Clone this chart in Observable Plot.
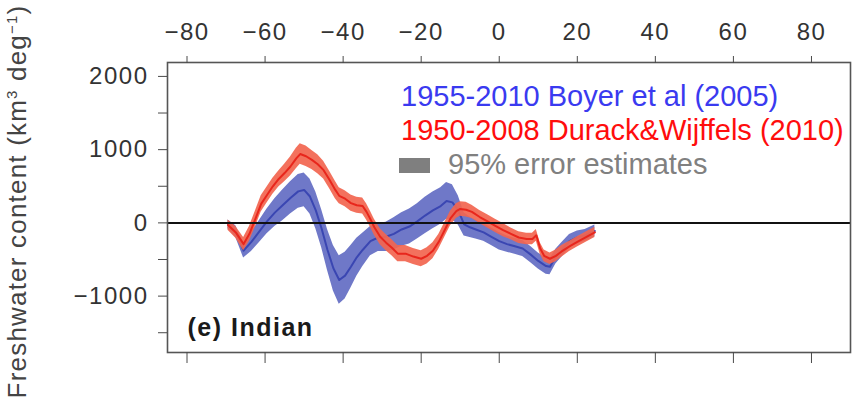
<!DOCTYPE html>
<html>
<head>
<meta charset="utf-8">
<script src="https://cdn.jsdelivr.net/npm/d3@7"></script>
<script src="https://cdn.jsdelivr.net/npm/@observablehq/plot@0.6"></script>
<style>
  html, body { margin: 0; padding: 0; background: #fff; }
  #wrap { position: relative; width: 854px; height: 399px; overflow: hidden; font-family: "Liberation Sans", Arial, sans-serif; }
  #wrap svg g[aria-label$="tick label"] text { letter-spacing: 1.5px; }
  .leg { position: absolute; left: 401px; font-size: 29px; line-height: 34px; white-space: nowrap; }
  #swatch { position: absolute; left: 399px; top: 158px; width: 31px; height: 15px; background: #7f7f7f; }
</style>
</head>
<body>
<div id="wrap">
  <div id="chart"></div>
  <div class="leg" id="legBoyer" style="top:79px;color:#3a3af0;"></div>
  <div class="leg" id="legDurack" style="top:113px;color:#ff0d0d;"></div>
  <div id="swatch"></div>
  <div class="leg" id="legErr" style="top:147px;left:448px;color:#808080;"></div>
</div>
<script>
// ---- Data ----
const xTicks = [-80, -60, -40, -20, 0, 20, 40, 60, 80];
const yMajorTicks = [-1000, 0, 1000, 2000];
const yMinorTicks = [-1500, -500, 500, 1500];

const seriesNames = ["1955-2010 Boyer et al (2005)", "1950-2008 Durack&Wijffels (2010)", "95% error estimates"];
const panelLabel = "(e) Indian";
const yLabel = "Freshwater content (km³ deg⁻¹)";

const boyerLat = [-69.5, -67.5, -65.5, -63.5, -61.5, -59.5, -57.5, -55.5, -53.5, -51.5, -50, -48.5, -47, -45.5, -44, -42.5, -41, -39.5, -38, -36.5, -35, -33, -31, -29, -27, -25, -23, -21, -19, -17, -15, -13.5, -12, -10.5, -9, -7.5, -6, -4, -2, 0, 2, 4, 6, 8, 10, 12, 13, 14.5, 16, 18, 20, 22, 24.5];
const boyerVal = [-20, -120, -380, -260, -120, 20, 140, 240, 340, 430, 450, 360, 170, -80, -370, -620, -780, -720, -600, -470, -370, -250, -200, -190, -150, -90, -50, 20, 100, 170, 230, 300, 280, 170, -20, -60, -90, -130, -190, -250, -290, -320, -350, -430, -520, -590, -600, -460, -370, -250, -200, -170, -110];
const boyerErr = [60, 80, 100, 130, 150, 170, 190, 210, 220, 230, 230, 240, 250, 260, 280, 310, 330, 320, 290, 260, 230, 200, 190, 200, 220, 230, 240, 240, 250, 250, 250, 250, 240, 200, 160, 140, 130, 120, 120, 120, 110, 110, 110, 110, 110, 110, 110, 100, 100, 90, 90, 80, 80];

const durackLat = [-69.5, -67.5, -65.5, -64, -62.5, -61, -59.5, -58, -56.5, -55, -53.5, -52, -51, -49.5, -48, -46.5, -45, -43.5, -42, -41, -39.5, -38, -36.5, -35, -34, -33, -32, -30.5, -29, -27.5, -26, -24, -22, -20, -18.5, -17, -15.5, -14, -12.5, -11, -10, -8.5, -7, -5, -3, -1, 1, 3, 5, 7, 8.5, 9.5, 10.5, 11.5, 13, 14.5, 16, 18, 20, 22, 24.5];
const durackVal = [-30, -130, -290, -150, 50, 260, 380, 500, 600, 680, 770, 880, 940, 910, 860, 800, 720, 590, 450, 370, 330, 270, 240, 230, 150, 50, -60, -190, -270, -340, -420, -420, -460, -490, -450, -380, -260, -100, 60, 160, 190, 180, 150, 80, 20, -40, -100, -150, -200, -220, -220, -170, -350, -450, -490, -450, -390, -320, -260, -200, -130];
const durackErr = [70, 80, 90, 100, 110, 110, 110, 110, 110, 120, 130, 140, 140, 140, 130, 130, 120, 120, 120, 110, 110, 110, 110, 110, 110, 110, 110, 110, 110, 110, 110, 110, 110, 110, 110, 110, 100, 100, 100, 100, 100, 100, 90, 90, 90, 90, 90, 80, 80, 80, 80, 80, 80, 80, 80, 80, 80, 70, 70, 70, 70];

// ---- Build tables ----
const boyer = boyerLat.map((lat, i) => ({lat, v: boyerVal[i], lo: boyerVal[i] - boyerErr[i], hi: boyerVal[i] + boyerErr[i]}));
const durack = durackLat.map((lat, i) => ({lat, v: durackVal[i], lo: durackVal[i] - durackErr[i], hi: durackVal[i] + durackErr[i]}));

const fmt = d => d < 0 ? "\u2212" + Math.abs(d) : String(d);
const axisColor = "#4a4a4a";

const chart = Plot.plot({
  width: 854,
  height: 399,
  marginLeft: 167,
  marginRight: 4,
  marginTop: 62,
  marginBottom: 47,
  style: {fontFamily: "'Liberation Sans', Arial, sans-serif", background: "white", color: "#333"},
  x: {domain: [-85, 90], label: null},
  y: {domain: [-1770, 2190], label: null},
  marks: [
    Plot.areaY(boyer, {x: "lat", y1: "lo", y2: "hi", fill: "#6f78c8"}),
    Plot.lineY(boyer, {x: "lat", y: "v", stroke: "#3a46b2", strokeWidth: 2}),
    Plot.areaY(durack, {x: "lat", y1: "lo", y2: "hi", fill: "#f2654f", fillOpacity: 0.92}),
    Plot.lineY(durack, {x: "lat", y: "v", stroke: "#e8261c", strokeWidth: 2}),
    Plot.ruleY([0], {stroke: "#111", strokeWidth: 2}),
    Plot.frame({stroke: "#555", strokeWidth: 1.6}),
    Plot.axisX(xTicks, {anchor: "top", tickSize: 7, tickPadding: 16, fontSize: 24, stroke: axisColor, fill: "#333", tickFormat: fmt, label: null}),
    Plot.axisX(xTicks, {anchor: "bottom", tickSize: 11, stroke: axisColor, tickFormat: () => "", label: null}),
    Plot.axisY(yMajorTicks, {anchor: "left", tickSize: 9, tickPadding: 10, fontSize: 24, stroke: axisColor, fill: "#333", tickFormat: fmt, label: null}),
    Plot.axisY(yMinorTicks, {anchor: "left", tickSize: 9, stroke: axisColor, tickFormat: () => "", label: null}),
    Plot.text([panelLabel], {frameAnchor: "bottom-left", dx: 20, dy: -17, textAnchor: "start", lineAnchor: "bottom", fontSize: 25, fontWeight: "bold", fill: "#1a1a1a"}),
    Plot.text([yLabel], {frameAnchor: "left", textAnchor: "middle", rotate: -90, dx: -150, dy: -6, fontSize: 26, fill: "#444"})
  ]
});
document.getElementById("chart").appendChild(chart);

// panel label spacing
d3.select(chart).selectAll("text").filter(function() { return this.textContent === panelLabel; })
  .style("letter-spacing", "1.5px");

// y label with real superscripts
const yl = d3.select(chart).selectAll("text").filter(function() { return this.textContent === yLabel; });
yl.style("letter-spacing", "1.2px").attr("text-anchor", "middle");
yl.text(null);
yl.append("tspan").text("Freshwater content (km");
yl.append("tspan").attr("font-size", 15).attr("dy", -9).text("3");
yl.append("tspan").attr("dy", 9).text(" deg");
yl.append("tspan").attr("font-size", 15).attr("dy", -9).text("\u22121");
yl.append("tspan").attr("dy", 9).text(")");

document.getElementById("legBoyer").textContent = seriesNames[0];
document.getElementById("legDurack").textContent = seriesNames[1];
document.getElementById("legErr").textContent = seriesNames[2];
</script>
</body>
</html>
